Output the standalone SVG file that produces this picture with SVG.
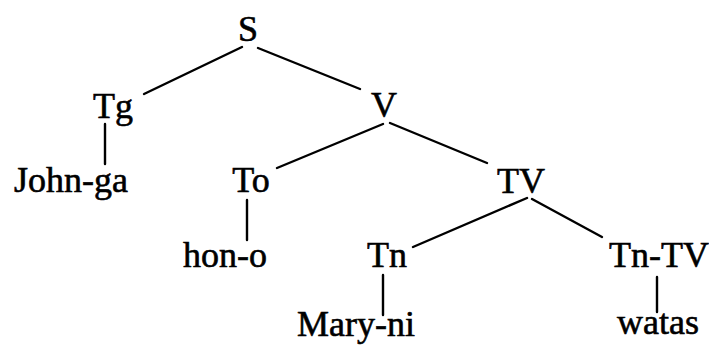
<svg xmlns="http://www.w3.org/2000/svg" width="709" height="345" viewBox="0 0 709 345">
<style>
text{font-family:"Liberation Serif","Times New Roman",serif;font-size:36px;fill:#000;stroke:#000;stroke-width:0.6;text-anchor:middle}
line{stroke:#000;stroke-width:2.4;stroke-linecap:round}
</style>
<rect width="709" height="345" fill="#fff"/>
<g id="connectors">
<line x1="242" y1="47" x2="144" y2="94"/>
<line x1="258" y1="48" x2="360" y2="89"/>
<line x1="105" y1="124" x2="105" y2="164"/>
<line x1="383" y1="124" x2="277" y2="168"/>
<line x1="390" y1="123" x2="487" y2="163"/>
<line x1="247" y1="200" x2="247" y2="240"/>
<line x1="527" y1="198" x2="413" y2="247"/>
<line x1="532" y1="199" x2="602" y2="237"/>
<line x1="383" y1="275" x2="383" y2="315"/>
<line x1="657" y1="277" x2="657" y2="312"/>
</g>
<g id="S"><text x="248" y="41">S</text></g>
<g id="Tg"><text x="113" y="118">Tg</text></g>
<g id="V"><text x="384" y="117">V</text></g>
<g id="John-ga"><text x="71" y="192">John-ga</text></g>
<g id="To"><text x="251" y="192">To</text></g>
<g id="TV"><text x="521" y="193">TV</text></g>
<g id="hon-o"><text x="225" y="267">hon-o</text></g>
<g id="Tn"><text x="387" y="267">Tn</text></g>
<g id="Tn-TV"><text x="659" y="267">Tn-TV</text></g>
<g id="Mary-ni"><text x="356" y="336">Mary-ni</text></g>
<g id="watas"><text x="658" y="334">watas</text></g>
</svg>
